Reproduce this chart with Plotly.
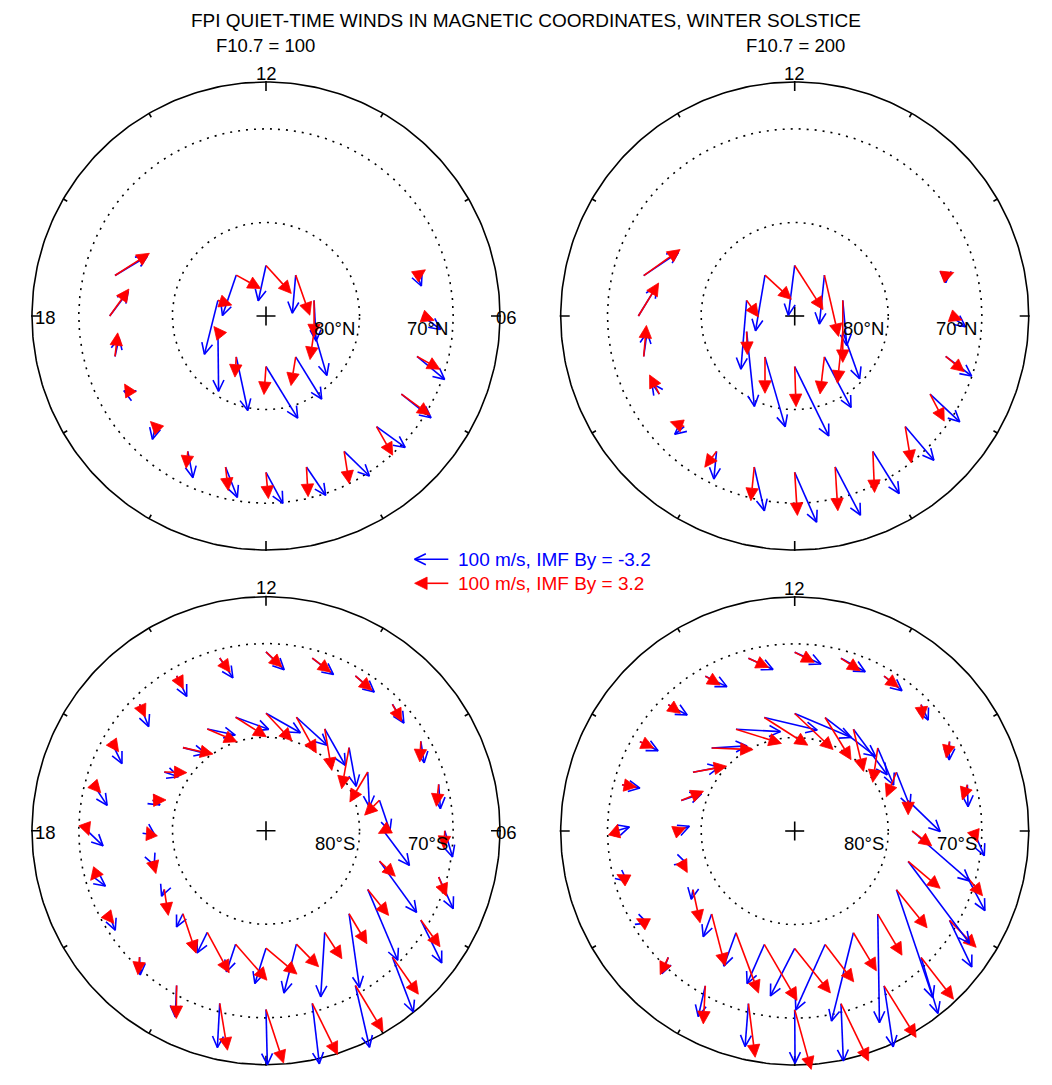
import math
import plotly.graph_objects as go

# ---------------------------------------------------------------------------
# Wind data: (dawnward, sunward) components in m/s, one pair per grid cell.
# Blue = IMF By = -3.2, red = IMF By = +3.2.
# ---------------------------------------------------------------------------

# grid cells: magnetic local time (h) and magnetic latitude (deg)
north_outer_mlt = [17, 18, 19, 20, 21, 22, 23, 0, 1, 2, 3, 4, 5, 6, 7]
north_outer_lat = 73.3
north_inner_mlt = [0, 2.4, 4.8, 7.2, 9.6, 12, 14.4, 16.8, 19.2, 21.6]
north_inner_lat = 84.6
south_mlt = [0, 1, 2, 3, 4, 5, 6, 7, 8, 9, 10, 11,
             12, 13, 14, 15, 16, 17, 18, 19, 20, 21, 22, 23]
south_outer_lat = -70.9
south_inner_lat = -77.45

# F10.7 = 100, northern hemisphere
n100_outer_byneg = [(96, 58), (55, 73), (12, 55), (-20, 10), (-9, -38), (15, -78), (35, -90),
                    (50, -92), (57, -84), (75, -73), (85, -62), (88, -70), (82, -68), (54, -40), (13, -31)]
n100_outer_bypos = [(102, 66), (57, 80), (8, 70), (-18, 30), (-15, 15), (-5, -50), (8, -70),
                    (7, -78), (5, -88), (15, -95), (48, -85), (85, -62), (68, -38), (35, -13), (25, 17)]
n100_inner_byneg = [(94, -153), (77, -125), (38, -130), (6, -121), (-10, -113),
                    (-23, -105), (-41, -120), (-40, -160), (2, -177), (34, -159)]
n100_inner_bypos = [(-6, -83), (-14, -85), (-12, -83), (0, -108), (42, -119),
                    (75, -83), (72, -40), (41, -14), (-12, 15), (-4, -60)]

# F10.7 = 200, northern hemisphere
n200_outer_byneg = [(103, 69), (54, 88), (10, 72), (-22, 32), (-28, -23), (-8, -82), (30, -130),
                    (65, -148), (75, -143), (78, -125), (85, -100), (88, -82), (77, -58), (43, -32), (0, -21)]
n200_outer_bypos = [(108, 77), (60, 98), (8, 92), (-29, 57), (-41, 14), (-35, -47), (-10, -100),
                    (8, -128), (8, -130), (5, -122), (18, -108), (42, -80), (55, -45), (33, -12), (24, 9)]
n200_inner_byneg = [(101, -206), (79, -150), (50, -140), (12, -134), (-15, -145),
                    (-19, -148), (-28, -165), (-17, -204), (23, -222), (60, -207)]
n200_inner_bypos = [(4, -119), (-13, -110), (-16, -153), (0, -184), (42, -182),
                    (84, -131), (78, -72), (35, -49), (2, -68), (0, -108)]

# F10.7 = 100, southern hemisphere (MLT 00 .. 23)
s100_outer_byneg = [(4, -164), (21, -179), (42, -183), (62, -163), (62, -127), (43, -94),
                    (23, -78), (5, -72), (10, -64), (34, -56), (56, -48), (63, -49),
                    (54, -53), (39, -59), (30, -61), (27, -66), (32, -66), (41, -62),
                    (47, -45), (36, -27), (12, -30), (2, -53), (-4, -93), (-7, -131)]
s100_outer_bypos = [(52, -159), (75, -152), (82, -136), (77, -110), (57, -79), (23, -57),
                    (-3, -53), (-7, -65), (-3, -61), (27, -50), (49, -43), (55, -42),
                    (47, -45), (31, -42), (20, -38), (17, -38), (22, -31), (22, -25),
                    (5, -14), (-8, -10), (8, -10), (-5, -52), (-1, -98), (23, -139)]
s100_inner_byneg = [(-33, -105), (-37, -145), (-12, -191), (31, -219), (89, -210), (110, -152),
                    (77, -103), (31, -91), (5, -104), (21, -115), (61, -108), (91, -83),
                    (102, -58), (98, -36), (83, -18), (67, -17), (42, -14), (22, -14),
                    (19, -13), (5, -12), (-8, -20), (-19, -39), (-30, -61), (-27, -82)]
s100_inner_bypos = [(92, -77), (66, -67), (51, -78), (53, -89), (62, -77), (47, -45),
                    (-15, -8), (-44, -44), (-53, -89), (-22, -122), (21, -123), (59, -106),
                    (77, -82), (91, -58), (88, -38), (89, -19), (67, -2), (40, 1),
                    (-5, 12), (10, -37), (12, -77), (39, -117), (65, -120), (93, -107)]

# F10.7 = 200, southern hemisphere (MLT 00 .. 23)
s200_outer_byneg = [(1, -159), (7, -170), (27, -181), (50, -166), (66, -138), (52, -99),
                    (32, -73), (2, -65), (-1, -54), (21, -46), (53, -43), (72, -40),
                    (78, -35), (73, -33), (64, -31), (56, -31), (54, -27), (53, -10),
                    (40, 12), (15, -12), (22, -8), (-19, -48), (-21, -91), (-10, -127)]
s200_outer_bypos = [(49, -177), (82, -170), (95, -153), (96, -124), (79, -80), (45, -55),
                    (12, -34), (-15, -45), (-10, -48), (5, -44), (43, -33), (57, -37),
                    (58, -30), (60, -27), (44, -26), (36, -26), (41, -19), (43, -7),
                    (5, 20), (-15, 8), (-10, 5), (-24, -51), (-6, -113), (20, -159)]
s200_inner_byneg = [(-72, -141), (-87, -194), (-65, -262), (5, -322), (108, -320), (182, -243),
                    (170, -148), (95, -92), (40, -101), (47, -110), (100, -135), (150, -115),
                    (168, -71), (157, -37), (132, -7), (105, 6), (78, 15), (60, 20),
                    (36, 14), (15, -5), (-5, -28), (-25, -67), (-36, -99), (-51, -116)]
s200_inner_bypos = [(106, -132), (85, -111), (68, -113), (72, -122), (91, -113), (95, -80),
                    (58, -44), (0, -42), (-30, -73), (-15, -102), (30, -125), (77, -125),
                    (114, -107), (129, -82), (135, -42), (123, -5), (100, 18), (66, 28),
                    (25, 10), (18, -33), (21, -98), (40, -154), (67, -179), (97, -166)]

legend_speed = 100  # m/s, reference arrow

# ---------------------------------------------------------------------------
# Drawing parameters
# ---------------------------------------------------------------------------
W, H = 1052, 1085
PX_PER_DEG = 9.36          # dial scale, pixels per degree of colatitude
PX_PER_MS = 0.337          # arrow scale, pixels per m/s
EDGE = 25.0                # colatitude of the dial rim
VIEW = 26.0                # half-width of each dial's axis range
DEG_PER_MS = PX_PER_MS / PX_PER_DEG
BLUE, RED, BLACK = "#0000ff", "#ff0000", "#000000"
FONT = "Liberation Sans, Arial, Helvetica, sans-serif"
FS = 18.5

panels = [
    dict(ax=1, cx=266.0, cy=316.0, hemi="N",
         rings=[(north_outer_mlt, north_outer_lat, n100_outer_byneg, n100_outer_bypos),
                (north_inner_mlt, north_inner_lat, n100_inner_byneg, n100_inner_bypos)],
         x18=-23.6, x06=25.7),
    dict(ax=2, cx=794.7, cy=316.0, hemi="N",
         rings=[(north_outer_mlt, north_outer_lat, n200_outer_byneg, n200_outer_bypos),
                (north_inner_mlt, north_inner_lat, n200_inner_byneg, n200_inner_bypos)],
         x18=-26.3, x06=26.2),
    dict(ax=3, cx=266.0, cy=830.7, hemi="S",
         rings=[(south_mlt, south_outer_lat, s100_outer_byneg, s100_outer_bypos),
                (south_mlt, south_inner_lat, s100_inner_byneg, s100_inner_bypos)],
         x18=-23.6, x06=25.7),
    dict(ax=4, cx=794.7, cy=831.0, hemi="S",
         rings=[(south_mlt, south_outer_lat, s200_outer_byneg, s200_outer_bypos),
                (south_mlt, south_inner_lat, s200_inner_byneg, s200_inner_bypos)],
         x18=-26.3, x06=26.2),
]


def dial_xy(mlt, colat):
    """MLT 00 at the bottom, 06 on the right, 12 at the top."""
    a = math.radians(mlt * 15.0)
    return colat * math.sin(a), -colat * math.cos(a)


def arrow_geometry(mlts, lat, winds, filled):
    """Return shaft segments and head outlines for one set of wind vectors."""
    sx, sy, hx, hy = [], [], [], []
    colat = 90.0 - abs(lat)
    for mlt, (ue, un) in zip(mlts, winds):
        x0, y0 = dial_xy(mlt, colat)
        x1, y1 = x0 + ue * DEG_PER_MS, y0 + un * DEG_PER_MS
        add_arrow(x0, y0, x1, y1, filled, sx, sy, hx, hy)
    return sx, sy, hx, hy


def add_arrow(x0, y0, x1, y1, filled, sx, sy, hx, hy):
    dx, dy = x1 - x0, y1 - y0
    length = math.hypot(dx, dy)
    if length == 0:
        return
    ux, uy = dx / length, dy / length
    px, py = -uy, ux
    if filled:
        hl, hw = 12.5 / PX_PER_DEG, 6.2 / PX_PER_DEG
        bx, by = x1 - hl * ux, y1 - hl * uy
        sx += [x0, bx, None]
        sy += [y0, by, None]
        hx += [x1, bx + hw * px, bx - hw * px, x1, None]
        hy += [y1, by + hw * py, by - hw * py, y1, None]
    else:
        bl = 12.5 / PX_PER_DEG
        ang = math.radians(26)
        c, s = math.cos(ang), math.sin(ang)
        lx = x1 - bl * (ux * c - uy * s)
        ly = y1 - bl * (uy * c + ux * s)
        rx = x1 - bl * (ux * c + uy * s)
        ry = y1 - bl * (uy * c - ux * s)
        sx += [x0, x1, None, lx, x1, rx, None]
        sy += [y0, y1, None, ly, y1, ry, None]


fig = go.Figure()
annotations = []

for p in panels:
    xa, ya = f"x{p['ax']}", f"y{p['ax']}"

    # rim
    t = [i * 2 * math.pi / 360 for i in range(361)]
    fig.add_trace(go.Scatter(x=[EDGE * math.cos(a) for a in t], y=[EDGE * math.sin(a) for a in t],
                             mode="lines", line=dict(color=BLACK, width=1.6),
                             xaxis=xa, yaxis=ya, hoverinfo="skip", showlegend=False))
    # 80 and 70 degree latitude circles
    for colat in (10.0, 20.0):
        fig.add_trace(go.Scatter(x=[colat * math.cos(a) for a in t], y=[colat * math.sin(a) for a in t],
                                 mode="lines", line=dict(color=BLACK, width=1.6, dash="2px,6px"),
                                 xaxis=xa, yaxis=ya, hoverinfo="skip", showlegend=False))
    # hour ticks every 2 h on the rim, longer every 6 h
    tx, ty = [], []
    for h in range(0, 24, 2):
        inner = EDGE - (9.0 if h % 6 == 0 else 4.5) / PX_PER_DEG
        outer = EDGE + (1.0 if h % 6 == 0 else 0.0) / PX_PER_DEG
        xi, yi = dial_xy(h, inner)
        xo, yo = dial_xy(h, outer)
        tx += [xi, xo, None]
        ty += [yi, yo, None]
    # pole marker
    c = 9.5 / PX_PER_DEG
    tx += [-c, c, None, 0, 0, None]
    ty += [0, 0, None, -c, c, None]
    fig.add_trace(go.Scatter(x=tx, y=ty, mode="lines", line=dict(color=BLACK, width=1.6),
                             xaxis=xa, yaxis=ya, hoverinfo="skip", showlegend=False))

    # wind vectors
    for mlts, lat, byneg, bypos in p["rings"]:
        bx, by, _, _ = arrow_geometry(mlts, lat, byneg, filled=False)
        fig.add_trace(go.Scatter(x=bx, y=by, mode="lines", line=dict(color=BLUE, width=1.6),
                                 xaxis=xa, yaxis=ya, hoverinfo="skip", showlegend=False))
        rx, ry, hx, hy = arrow_geometry(mlts, lat, bypos, filled=True)
        fig.add_trace(go.Scatter(x=rx, y=ry, mode="lines", line=dict(color=RED, width=1.6),
                                 xaxis=xa, yaxis=ya, hoverinfo="skip", showlegend=False))
        fig.add_trace(go.Scatter(x=hx, y=hy, mode="lines", fill="toself", fillcolor=RED,
                                 line=dict(color=RED, width=0.8),
                                 xaxis=xa, yaxis=ya, hoverinfo="skip", showlegend=False))

    # dial labels
    def lab(x, y, text, xanchor="center"):
        annotations.append(dict(x=x, y=y, xref=xa, yref=ya, text=text, showarrow=False,
                                xanchor=xanchor, yanchor="middle",
                                font=dict(family=FONT, size=FS, color=BLACK)))
    lab(0, 25.95, "12")
    lab(0, -26.3, "00 MLT")
    lab(p["x18"], -0.2, "18")
    lab(p["x06"], -0.2, "06")
    lab(9.72, -1.37, "80°" + p["hemi"], xanchor="right")
    lab(19.7, -1.37, "70°" + p["hemi"], xanchor="right")

# axes: one square frame per dial, same degrees-per-pixel everywhere
layout_axes = {}
for p in panels:
    half = VIEW * PX_PER_DEG
    x0, x1 = (p["cx"] - half) / W, (p["cx"] + half) / W
    y0, y1 = 1 - (p["cy"] + half) / H, 1 - (p["cy"] - half) / H
    n = p["ax"]
    layout_axes[f"xaxis{n}"] = dict(domain=[x0, x1], range=[-VIEW, VIEW], visible=False,
                                    anchor=f"y{n}", fixedrange=True)
    layout_axes[f"yaxis{n}"] = dict(domain=[y0, y1], range=[-VIEW, VIEW], visible=False,
                                    anchor=f"x{n}", fixedrange=True)

# reference-arrow key between the dials (same scale as the dials)
kx0, kx1, ky0, ky1 = 380.0, 700.0, 545.0, 600.0
layout_axes["xaxis5"] = dict(domain=[kx0 / W, kx1 / W], range=[0, (kx1 - kx0) / PX_PER_DEG],
                             visible=False, anchor="y5", fixedrange=True)
layout_axes["yaxis5"] = dict(domain=[1 - ky1 / H, 1 - ky0 / H], range=[0, (ky1 - ky0) / PX_PER_DEG],
                             visible=False, anchor="x5", fixedrange=True)
key_tail_x = (448.3 - kx0) / PX_PER_DEG
key_rows = [((ky1 - 559.3) / PX_PER_DEG, False, BLUE, "100 m/s, IMF By = -3.2"),
            ((ky1 - 583.3) / PX_PER_DEG, True, RED, "100 m/s, IMF By = 3.2")]
for ky, filled, col, text in key_rows:
    sx, sy, hx, hy = [], [], [], []
    add_arrow(key_tail_x, ky, key_tail_x - legend_speed * DEG_PER_MS, ky, filled, sx, sy, hx, hy)
    fig.add_trace(go.Scatter(x=sx, y=sy, mode="lines", line=dict(color=col, width=1.6),
                             xaxis="x5", yaxis="y5", hoverinfo="skip", showlegend=False))
    if filled:
        fig.add_trace(go.Scatter(x=hx, y=hy, mode="lines", fill="toself", fillcolor=col,
                                 line=dict(color=col, width=0.8),
                                 xaxis="x5", yaxis="y5", hoverinfo="skip", showlegend=False))
    annotations.append(dict(x=key_tail_x + 7.5 / PX_PER_DEG, y=ky, xref="x5", yref="y5", text=text,
                            showarrow=False, xanchor="left", yanchor="middle",
                            font=dict(family=FONT, size=FS + 0.5, color=col)))

# title and solar-flux headings
annotations.append(dict(x=526 / W, y=1 - 20 / H, xref="paper", yref="paper",
                        text="FPI QUIET-TIME WINDS IN MAGNETIC COORDINATES, WINTER SOLSTICE",
                        showarrow=False, xanchor="center", yanchor="middle",
                        font=dict(family=FONT, size=19, color=BLACK)))
for xc, txt in ((265, "F10.7 = 100"), (795, "F10.7 = 200")):
    annotations.append(dict(x=xc / W, y=1 - 45 / H, xref="paper", yref="paper", text=txt,
                            showarrow=False, xanchor="center", yanchor="middle",
                            font=dict(family=FONT, size=FS, color=BLACK)))

fig.update_layout(width=W, height=H, margin=dict(l=0, r=0, t=0, b=0),
                  paper_bgcolor="white", plot_bgcolor="white",
                  annotations=annotations, showlegend=False, **layout_axes)

fig.write_html("out.html")
